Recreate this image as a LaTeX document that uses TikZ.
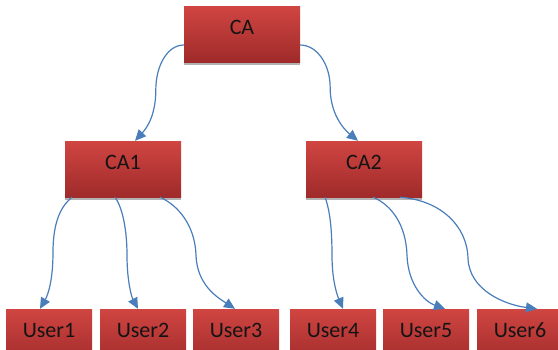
\documentclass[tikz,border=0pt]{standalone}
\usepackage{fontspec}
\setmainfont{Carlito}
\usetikzlibrary{arrows.meta,calc,shadows}

\definecolor{boxtop}{HTML}{D04542}
\definecolor{boxbot}{HTML}{9F2B2A}
\definecolor{linkblue}{HTML}{4A7EBB}
\definecolor{labelink}{HTML}{141414}

\tikzset{
  cabox/.style={
    rectangle, inner xsep=0pt, inner ysep=0pt,
    minimum width=116pt,
    text height=28pt, text depth=28pt,
    top color=boxtop, bottom color=boxbot,
    general shadow={fill=black!30, shadow yshift=-3pt},
    font=\fontsize{22}{25}\selectfont, text=labelink
  },
  userbox/.style={cabox, minimum width=86pt},
  link/.style={draw=linkblue, line width=1.2pt,
    -{Triangle[length=11pt,width=10pt]}}
}

\begin{document}
\begin{tikzpicture}[x=1pt,y=-1pt]
  \useasboundingbox (0,0) rectangle (558,349);

  \coordinate (c0) at (242,34);
  \coordinate (c1) at (123,169);
  \coordinate (c2) at (364,169);

  % boxes
  \node[cabox]   (CA)    at (c0)      {CA};
  \node[cabox]   (CA1)   at (c1)      {CA1};
  \node[cabox]   (CA2)   at (c2)      {CA2};
  \node[userbox] (User1) at (49,337)  {User1};
  \node[userbox] (User2) at (143,337) {User2};
  \node[userbox] (User3) at (236,337) {User3};
  \node[userbox] (User4) at (333,337) {User4};
  \node[userbox] (User5) at (426,337) {User5};
  \node[userbox] (User6) at (520,337) {User6};

  % curved links: top level
  \draw[link] ($(CA.west)+(0,11)$)
      .. controls +(-16,0) and +(0,-25) .. ($(CA.west)+(-28,56)$)
      .. controls +(0,25) and +(12,-13) .. ($(CA1.north)+(12,0)$);
  \draw[link] ($(CA.east)+(0,11)$)
      .. controls +(16,0) and +(0,-25) .. ($(CA.east)+(30,54)$)
      .. controls +(0,24) and +(-16,-13) .. ($(CA2.north)+(-6,0)$);

  % curved links: CA1 to its users
  \draw[link] ($(CA1.south)+(-51,0)$)
      .. controls +(-10,8) and +(0,-32) .. ($(CA1.south)+(-70,55)$)
      .. controls +(0,28) and +(8,-14) .. ($(User1.north)+(-9,0)$);
  \draw[link] ($(CA1.south)+(-8,0)$)
      .. controls +(6,8) and +(0,-30) .. ($(CA1.south)+(4,58)$)
      .. controls +(0,27) and +(-6,-11) .. ($(User2.north)+(-5,0)$);
  \draw[link] ($(CA1.south)+(37,0)$)
      .. controls +(18,8) and +(-1,-30) .. ($(CA1.south)+(73,58)$)
      .. controls +(1,30) and +(-17,-11) .. ($(User3.north)+(-1,0)$);

  % curved links: CA2 to its users
  \draw[link] ($(CA2.south)+(-39,0)$)
      .. controls +(5,13) and +(0,-25) .. ($(CA2.south)+(-32,58)$)
      .. controls +(0,25) and +(-6,-14) .. ($(User4.north)+(10,0)$);
  \draw[link] ($(CA2.south)+(9,0)$)
      .. controls +(19,8) and +(-1,-30) .. ($(CA2.south)+(43,58)$)
      .. controls +(1,30) and +(-20,-7) .. ($(User5.north)+(19,0)$);
  \draw[link] ($(CA2.south)+(36,0)$)
      .. controls +(40,3) and +(-1,-33) .. ($(CA2.south)+(104,61)$)
      .. controls +(1,32) and +(-32,-4) .. ($(User6.north)+(17,0)$);
\end{tikzpicture}
\end{document}
